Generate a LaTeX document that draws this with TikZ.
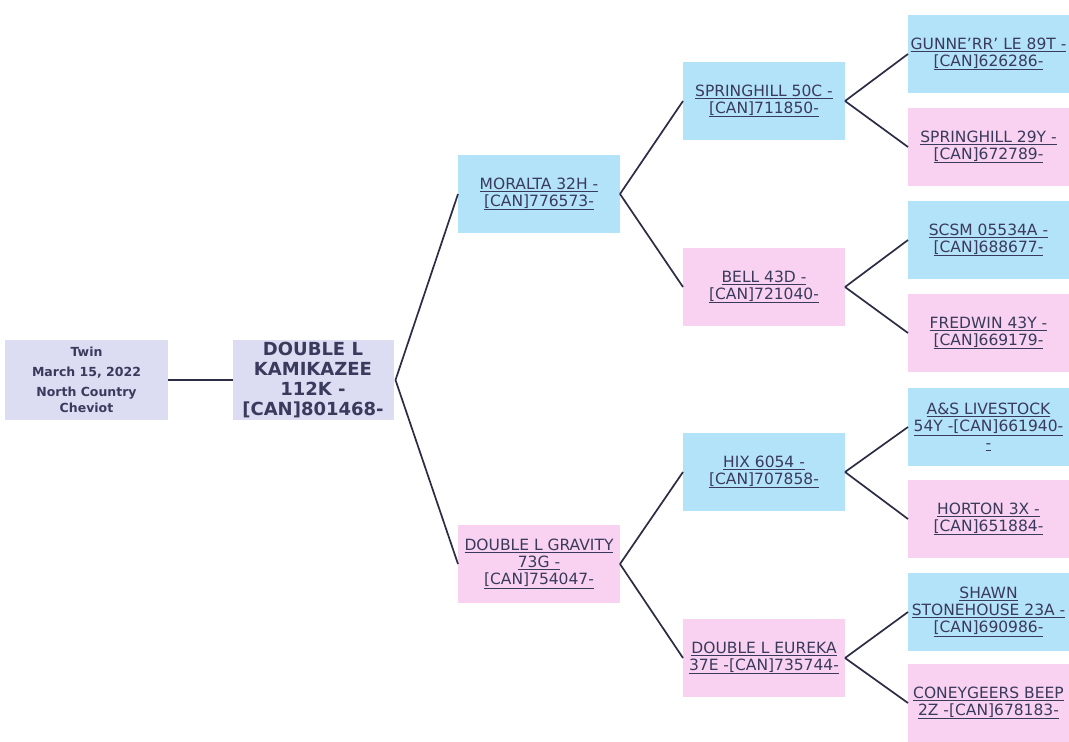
\documentclass[tikz,border=0pt]{standalone}
\usepackage{fontspec}
\setmainfont{DejaVu Sans}
\begin{document}
\begin{tikzpicture}[x=1pt,y=-1pt,
  every node/.style={inner sep=0pt, outer sep=0pt, align=center, text=txt},
  box/.style={minimum width=162pt, minimum height=78pt, font=\fontsize{15.5}{17}\selectfont},
  sire/.style={box, fill=sireblue},
  dam/.style={box, fill=dampink},
  self/.style={fill=lav, minimum width=161pt, minimum height=80pt},
  link/.style={draw=linec, line width=1.7pt}]
\definecolor{sireblue}{HTML}{B3E3F8}
\definecolor{dampink}{HTML}{F8D2F0}
\definecolor{lav}{HTML}{DCDCF2}
\definecolor{txt}{HTML}{3A3A5C}
\definecolor{linec}{HTML}{2C2C44}
\useasboundingbox (0,0) rectangle (1069,742);
\fill[white] (0,0) rectangle (1069,742);
\newcommand{\ul}[1]{\underline{#1}}
% generation 0/1
\node[self, minimum width=163pt, font=\bfseries\fontsize{12.5}{20}\selectfont] (info) at (86.5,380) {Twin\\March 15, 2022\\North Country\\[-4pt]Cheviot};
\node[self, font=\bfseries\fontsize{18}{20}\selectfont] (main) at (313,380) {DOUBLE L\\KAMIKAZEE\\112K -\\{}[CAN]801468-};
% generation 2
\node[sire] (moralta) at (539,194) {\ul{MORALTA 32H -}\\\ul{[CAN]776573-}};
\node[dam] (gravity) at (539,564) {\ul{DOUBLE L GRAVITY}\\\ul{73G -}\\\ul{[CAN]754047-}};
% generation 3
\node[sire] (spr50) at (764,101) {\ul{SPRINGHILL 50C -}\\\ul{[CAN]711850-}};
\node[dam] (bell) at (764,287) {\ul{BELL 43D -}\\\ul{[CAN]721040-}};
\node[sire] (hix) at (764,472) {\ul{HIX 6054 -}\\\ul{[CAN]707858-}};
\node[dam] (eureka) at (764,658) {\ul{DOUBLE L EUREKA}\\\ul{37E -[CAN]735744-}};
% generation 4
\node[sire, minimum width=161pt] (gunne) at (988.5,54) {\ul{GUNNE'RR' LE 89T -}\\\ul{[CAN]626286-}};
\node[dam, minimum width=161pt] (spr29) at (988.5,147) {\ul{SPRINGHILL 29Y -}\\\ul{[CAN]672789-}};
\node[sire, minimum width=161pt] (scsm) at (988.5,240) {\ul{SCSM 05534A -}\\\ul{[CAN]688677-}};
\node[dam, minimum width=161pt] (fredwin) at (988.5,333) {\ul{FREDWIN 43Y -}\\\ul{[CAN]669179-}};
\node[sire, minimum width=161pt] (as) at (988.5,427) {\ul{A\&S LIVESTOCK}\\\ul{54Y -[CAN]661940-}\\\ul{-}};
\node[dam, minimum width=161pt] (horton) at (988.5,519) {\ul{HORTON 3X -}\\\ul{[CAN]651884-}};
\node[sire, minimum width=161pt] (shawn) at (988.5,612) {\ul{SHAWN}\\\ul{STONEHOUSE 23A -}\\\ul{[CAN]690986-}};
\node[dam, minimum width=161pt] (coney) at (988.5,703) {\ul{CONEYGEERS BEEP}\\\ul{2Z -[CAN]678183-}};
% connectors
\draw[link] (info.east) -- (main.west);
\draw[link] ([xshift=2pt]main.east) -- (moralta.west);
\draw[link] ([xshift=2pt]main.east) -- (gravity.west);
\draw[link] (moralta.east) -- (spr50.west);
\draw[link] (moralta.east) -- (bell.west);
\draw[link] (gravity.east) -- (hix.west);
\draw[link] (gravity.east) -- (eureka.west);
\draw[link] (spr50.east) -- (gunne.west);
\draw[link] (spr50.east) -- (spr29.west);
\draw[link] (bell.east) -- (scsm.west);
\draw[link] (bell.east) -- (fredwin.west);
\draw[link] (hix.east) -- (as.west);
\draw[link] (hix.east) -- (horton.west);
\draw[link] (eureka.east) -- (shawn.west);
\draw[link] (eureka.east) -- (coney.west);
\end{tikzpicture}
\end{document}
